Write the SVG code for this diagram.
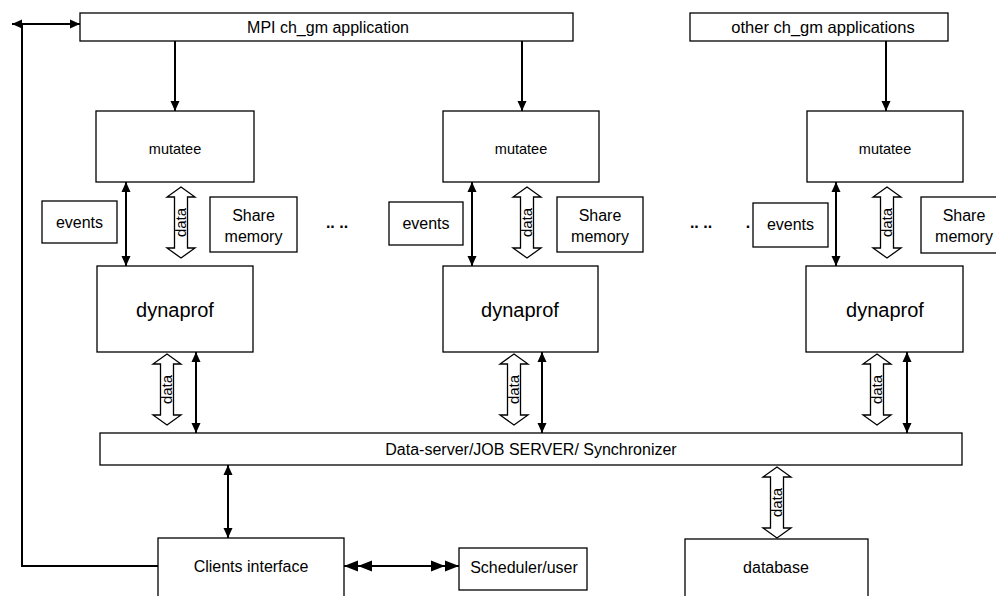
<svg xmlns="http://www.w3.org/2000/svg" width="996" height="596" viewBox="0 0 996 596">
<style>
  .box { fill: #ffffff; stroke: #000000; stroke-width: 1.3; }
  .t { font-family: "Liberation Sans", Arial, sans-serif; font-size: 16px; fill: #000000; text-anchor: middle; }
  .big { font-size: 20px; }
  .mu { font-size: 14.5px; }
  .ln { fill: none; stroke: #000000; stroke-width: 2; }
  .hollow { fill: #ffffff; stroke: #000000; stroke-width: 1.3; }
  .dat { font-family: "Liberation Sans", Arial, sans-serif; font-size: 15px; fill: #000000; text-anchor: middle; }
</style>
<defs>
  <marker id="ah" viewBox="0 0 10 10" refX="10" refY="5" markerWidth="10" markerHeight="10" markerUnits="userSpaceOnUse" orient="auto-start-reverse">
    <path d="M0,0.5 L10,5 L0,9.5 Z" fill="#000000"/>
  </marker>
  <marker id="ah2" viewBox="0 0 28 12" refX="28" refY="6" markerWidth="28" markerHeight="12" markerUnits="userSpaceOnUse" orient="auto-start-reverse">
    <path d="M0,0.5 L14,6 L0,11.5 Z M14,0.5 L28,6 L14,11.5 Z" fill="#000000"/>
  </marker>
  <g id="hol">
    <path class="hollow" d="M0,0 L14,10 L6.5,10 L6.5,61 L14,61 L0,71 L-14,61 L-6.5,61 L-6.5,10 L-14,10 Z"/>
    <text class="dat" transform="translate(5,35.5) rotate(-90)">data</text>
  </g>
</defs>
<rect width="996" height="596" fill="#ffffff"/>

<g id="connectors">
  <line class="ln" x1="175" y1="41" x2="175" y2="111" marker-end="url(#ah)"/>
  <line class="ln" x1="522" y1="41" x2="522" y2="111" marker-end="url(#ah)"/>
  <line class="ln" x1="886" y1="41" x2="886" y2="111" marker-end="url(#ah)"/>
  <line class="ln" x1="126" y1="182" x2="126" y2="266" marker-start="url(#ah)" marker-end="url(#ah)"/>
  <line class="ln" x1="472" y1="182" x2="472" y2="266" marker-start="url(#ah)" marker-end="url(#ah)"/>
  <line class="ln" x1="836" y1="182" x2="836" y2="266" marker-start="url(#ah)" marker-end="url(#ah)"/>
  <line class="ln" x1="196" y1="352" x2="196" y2="433" marker-start="url(#ah)" marker-end="url(#ah)"/>
  <line class="ln" x1="542" y1="352" x2="542" y2="433" marker-start="url(#ah)" marker-end="url(#ah)"/>
  <line class="ln" x1="907" y1="352" x2="907" y2="433" marker-start="url(#ah)" marker-end="url(#ah)"/>
  <line class="ln" x1="228" y1="465" x2="228" y2="538" marker-start="url(#ah)" marker-end="url(#ah)"/>
  <line class="ln" x1="344" y1="566" x2="459" y2="566" marker-start="url(#ah2)" marker-end="url(#ah2)"/>
  <path class="ln" d="M158,566 H22 V24"/>
  <line class="ln" x1="12" y1="24" x2="80" y2="24" marker-start="url(#ah)" marker-end="url(#ah)"/>
  <use href="#hol" x="181" y="187"/>
  <use href="#hol" x="527" y="187"/>
  <use href="#hol" x="887" y="187"/>
  <use href="#hol" x="167" y="354"/>
  <use href="#hol" x="514" y="354"/>
  <use href="#hol" x="877" y="354"/>
  <use href="#hol" x="777" y="467"/>
</g>

<g id="mpi-app">
  <rect class="box" x="80" y="13" width="493" height="28"/>
  <text class="t" x="328" y="33">MPI ch_gm application</text>
</g>
<g id="other-app">
  <rect class="box" x="690" y="13" width="258" height="28"/>
  <text class="t" x="823" y="33" style="font-size:16.5px">other ch_gm applications</text>
</g>

<g id="mutatee1">
  <rect class="box" x="96" y="111" width="158" height="71"/>
  <text class="t mu" x="175" y="154">mutatee</text>
</g>
<g id="mutatee2">
  <rect class="box" x="443" y="111" width="156" height="71"/>
  <text class="t mu" x="521" y="154">mutatee</text>
</g>
<g id="mutatee3">
  <rect class="box" x="807" y="111" width="156" height="71"/>
  <text class="t mu" x="885" y="154">mutatee</text>
</g>

<g id="events1">
  <rect class="box" x="42" y="201" width="75" height="42"/>
  <text class="t" x="79.5" y="228">events</text>
</g>
<g id="events2">
  <rect class="box" x="389" y="202" width="74" height="43"/>
  <text class="t" x="426" y="229">events</text>
</g>
<g id="events3">
  <rect class="box" x="753" y="203" width="75" height="44"/>
  <text class="t" x="790.5" y="230">events</text>
</g>

<g id="share1">
  <rect class="box" x="210" y="197" width="87" height="55"/>
  <text class="t" x="253.5" y="221">Share</text>
  <text class="t" x="253.5" y="242">memory</text>
</g>
<g id="share2">
  <rect class="box" x="557" y="197" width="86" height="55"/>
  <text class="t" x="600" y="221">Share</text>
  <text class="t" x="600" y="242">memory</text>
</g>
<g id="share3">
  <rect class="box" x="921" y="197" width="90" height="56"/>
  <text class="t" x="964" y="221">Share</text>
  <text class="t" x="964" y="242">memory</text>
</g>

<g id="dots">
  <text class="t" x="337" y="228" style="font-weight:bold">.. ..</text>
  <text class="t" x="701" y="228" style="font-weight:bold">.. ..</text>
  <text class="t" x="748" y="228" style="font-weight:bold">.</text>
</g>

<g id="dynaprof1">
  <rect class="box" x="97" y="266" width="156" height="86"/>
  <text class="t big" x="175" y="317">dynaprof</text>
</g>
<g id="dynaprof2">
  <rect class="box" x="443" y="266" width="155" height="86"/>
  <text class="t big" x="520" y="317">dynaprof</text>
</g>
<g id="dynaprof3">
  <rect class="box" x="806" y="266" width="157" height="86"/>
  <text class="t big" x="885" y="317">dynaprof</text>
</g>

<g id="dataserver">
  <rect class="box" x="100" y="433" width="862" height="32"/>
  <text class="t" x="531" y="455">Data-server/JOB SERVER/ Synchronizer</text>
</g>

<g id="clients">
  <rect class="box" x="158" y="538" width="186" height="70"/>
  <text class="t" x="251" y="572">Clients interface</text>
</g>
<g id="scheduler">
  <rect class="box" x="459" y="548" width="128" height="42"/>
  <text class="t" x="524" y="573">Scheduler/user</text>
</g>
<g id="database">
  <rect class="box" x="685" y="539" width="183" height="70"/>
  <text class="t" x="776" y="573">database</text>
</g>
</svg>
